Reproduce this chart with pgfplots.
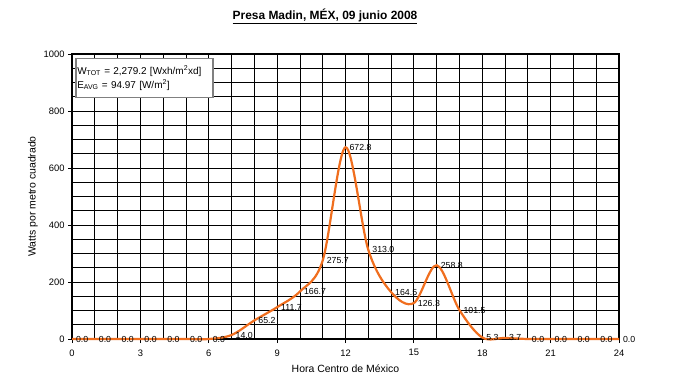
\documentclass[border=0pt]{standalone}
\usepackage{pgfplots}
\pgfplotsset{compat=1.18}
\usepackage{fontspec}
\setmainfont{Liberation Sans}
\definecolor{orangeline}{RGB}{240,110,30}
\pgfplotstableread{
h w
0 0.0
1 0.0
2 0.0
3 0.0
4 0.0
5 0.0
6 0.0
7 14.0
8 65.2
9 111.7
10 166.7
11 275.7
12 672.8
13 313.0
14 164.5
15 126.3
16 258.8
17 101.5
18 5.3
19 3.7
20 0.0
21 0.0
22 0.0
23 0.0
24 0.0
}\datatable
\begin{document}
\begin{tikzpicture}[x=1bp,y=1bp]
\path[use as bounding box] (0,0) rectangle (680,389);
\begin{axis}[
  at={(72bp,50bp)}, anchor=south west,
  scale only axis, width=547bp, height=285bp,
  xmin=0, xmax=24, ymin=0, ymax=1000,
  xtick={0,3,...,24}, minor xtick={0,...,24},
  ytick={0,200,...,1000}, minor ytick={0,50,...,1000},
  grid=both,
  major grid style={black, line width=0.8bp},
  minor grid style={black, line width=0.8bp},
  axis line style={black, line width=1.8bp},
  tick style={black, line width=0.8bp},
  major tick length=4bp, minor tick length=0pt,
  tick align=outside, xtick pos=left, ytick pos=left,
  /pgf/number format/assume math mode=true,
  /pgf/number format/1000 sep={},
  ticklabel style={font=\fontsize{9.4}{11}\selectfont},
  xticklabel style={yshift=-3bp},
  xlabel={Hora Centro de México},
  ylabel={Watts por metro cuadrado},
  xlabel style={font=\fontsize{10.5}{12}\selectfont, at={(axis description cs:0.5,-0.105)}, anchor=center},
  ylabel style={font=\fontsize{10.5}{12}\selectfont, at={(axis description cs:-0.0713,0.5)}, anchor=center},
  title={\underline{\textbf{Presa Madin, MÉX, 09 junio 2008}}},
  title style={font=\fontsize{12}{14}\selectfont, at={(axis description cs:0.4625,1.1123)}, anchor=center, yshift=0pt},
  clip=false,
]
\addplot[orangeline, line width=2.2bp, smooth, tension=0.55,
  nodes near coords={\pgfmathprintnumber[fixed,fixed zerofill,precision=1]{\pgfplotspointmeta}},
  point meta=y,
  every node near coord/.style={anchor=west, font=\fontsize{8.8}{10}\selectfont, text=black, inner sep=1bp, xshift=2bp},
] table[x=h,y=w] {\datatable};
\node[draw=gray, line width=1.5bp, fill=white, anchor=north west, align=left,
  text width=134bp, minimum height=39bp, inner sep=1.5bp,
  font=\fontsize{10}{12}\selectfont]
  at (axis description cs:0.0055,0.986)
  {W\textsubscript{\fontsize{7}{8}\selectfont TOT} = 2,279.2 [Wxh/m\textsuperscript{2}xd]\\[2bp]
   E\textsubscript{\fontsize{7}{8}\selectfont AVG} = 94.97 [W/m\textsuperscript{2}]};
\end{axis}
\end{tikzpicture}
\end{document}
